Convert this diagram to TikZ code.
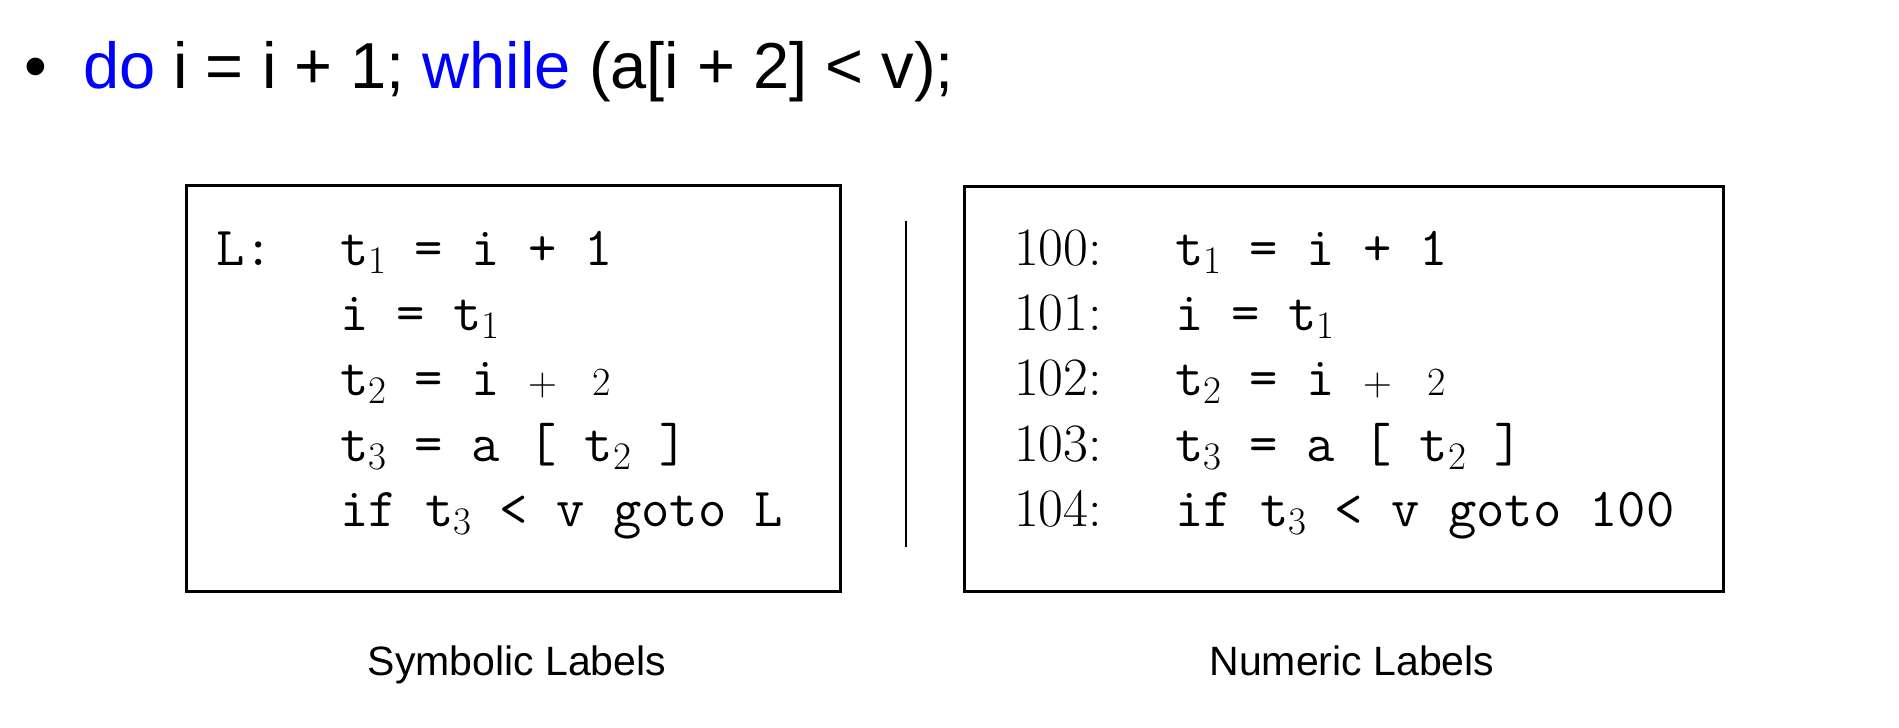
\documentclass[tikz,border=0pt]{standalone}
\usepackage{fontspec}
\newfontfamily\arialf{Liberation Sans}
\definecolor{kwblue}{RGB}{0,0,255}
\newcommand\subsc[1]{\raisebox{-8pt}{\fontsize{39}{40}\selectfont\rmfamily #1}}
\begin{document}
\begin{tikzpicture}[x=1pt,y=-1pt,
  codetext/.style={anchor=base west,inner sep=0pt,font=\fontsize{55}{65}\selectfont\ttfamily},
  numtext/.style={anchor=base west,inner sep=0pt,font=\fontsize{54}{65}\selectfont\rmfamily},
  captext/.style={anchor=base,inner sep=0pt,font=\fontsize{41}{48}\selectfont\arialf},
  titletext/.style={anchor=base west,inner sep=0pt,font=\fontsize{65}{78}\selectfont\arialf},
  codebox/.style={draw,line width=3pt,inner sep=0pt}]
\useasboundingbox (0,0) rectangle (1899,728);
\fill[white] (0,0) rectangle (1899,728);
% title
\node[titletext] (bul) at (24,88) {•};
\node[titletext] (title) at (83,88) {\textcolor{kwblue}{do} i = i + 1; \textcolor{kwblue}{while} (a[i + 2] < v);};
% boxes
\node[codebox,minimum width=654pt,minimum height=406pt] (lbox) at (513,388) {};
\node[codebox,minimum width=759pt,minimum height=405pt] (rbox) at (1343.5,388.5) {};
% divider
\coordinate (dtop) at (906,221);
\coordinate (dbot) at (906,547);
\draw[line width=2.5pt] (dtop) -- (dbot);
% left box code
\node[codetext] (lL) at (216,265) {L:};
\node[codetext] (l1) at (340,265) {t\subsc{1} = i + 1};
\node[codetext] (l2) at (340,330) {i = t\subsc{1}};
\node[codetext] (l3) at (340,395) {t\subsc{2} = i {\fontsize{40}{40}\rmfamily\selectfont +\hspace{36pt}2}};
\node[codetext] (l4) at (340,461) {t\subsc{3} = a [ t\subsc{2} ]};
\node[codetext] (l5) at (340,526) {if t\subsc{3} < v goto L};
% right box code
\node[numtext] (n0) at (1014,265) {100:};
\node[numtext] (n1) at (1014,330) {101:};
\node[numtext] (n2) at (1014,395) {102:};
\node[numtext] (n3) at (1014,461) {103:};
\node[numtext] (n4) at (1014,526) {104:};
\node[codetext] (r1) at (1175,265) {t\subsc{1} = i + 1};
\node[codetext] (r2) at (1175,330) {i = t\subsc{1}};
\node[codetext] (r3) at (1175,395) {t\subsc{2} = i {\fontsize{40}{40}\rmfamily\selectfont +\hspace{36pt}2}};
\node[codetext] (r4) at (1175,461) {t\subsc{3} = a [ t\subsc{2} ]};
\node[codetext] (r5) at (1175,526) {if t\subsc{3} < v goto 100};
% captions
\node[captext] (cap1) at (517,675) {Symbolic Labels};
\node[captext] (cap2) at (1352,675) {Numeric Labels};
\end{tikzpicture}
\end{document}
